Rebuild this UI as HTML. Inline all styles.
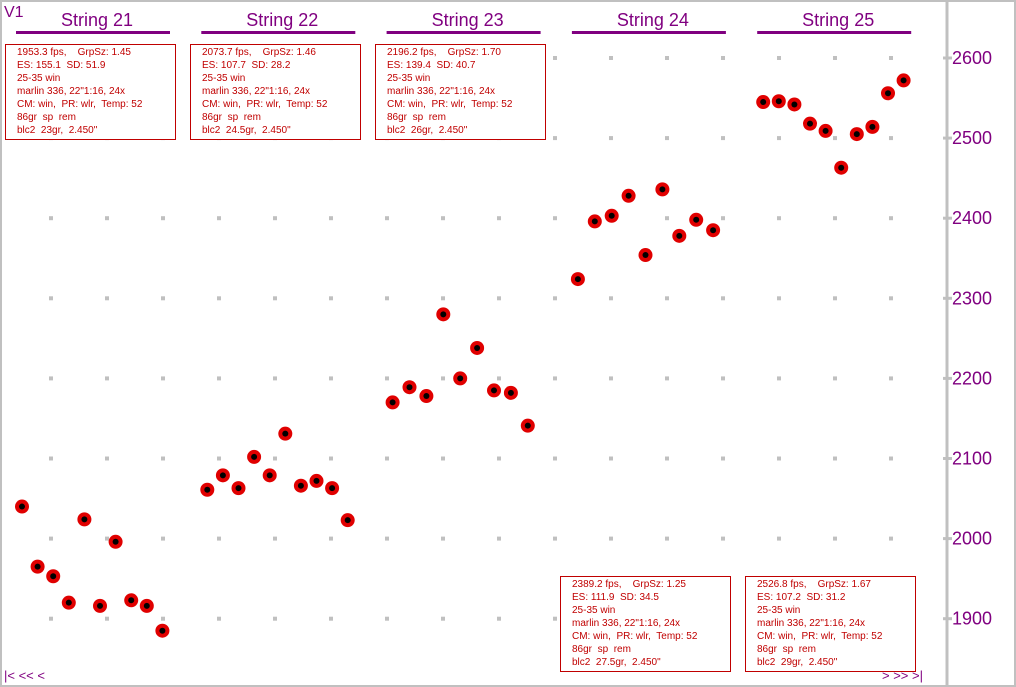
<!DOCTYPE html>
<html><head><meta charset="utf-8"><style>
body{margin:0;background:#fff}
#wrap{position:relative;width:1016px;height:687px;overflow:hidden;font-family:"Liberation Sans",sans-serif}
.box{position:absolute;border:1px solid #c00000;background:#fff;color:#c00000;font-size:10px;line-height:13px;padding:1px 0 0 11px;box-sizing:border-box;width:171px;height:96px;white-space:pre}
</style></head><body>
<div id="wrap">
<svg id="svg" width="1016" height="687" style="position:absolute;left:0;top:0"></svg>
</div>
<script>
const strings=["String 21","String 22","String 23","String 24","String 25"];
const s21=[2040,1965,1953,1920,2024,1916,1996,1923,1916,1885];
const s22=[2061,2079,2063,2102,2079,2131,2066,2072,2063,2023];
const s23=[2170,2189,2178,2280,2200,2238,2185,2182,2141];
const s24=[2324,2396,2403,2428,2354,2436,2378,2398,2385];
const s25=[2545,2546,2542,2518,2509,2463,2505,2514,2556,2572];
const yTicks=[1900,2000,2100,2200,2300,2400,2500,2600];
const boxTexts=[
["1953.3 fps,    GrpSz: 1.45","ES: 155.1  SD: 51.9"],
["2073.7 fps,    GrpSz: 1.46","ES: 107.7  SD: 28.2"],
["2196.2 fps,    GrpSz: 1.70","ES: 139.4  SD: 40.7"],
["2389.2 fps,    GrpSz: 1.25","ES: 111.9  SD: 34.5"],
["2526.8 fps,    GrpSz: 1.67","ES: 107.2  SD: 31.2"]];
const powders=["blc2  23gr,  2.450\"","blc2  24.5gr,  2.450\"","blc2  26gr,  2.450\"","blc2  27.5gr,  2.450\"","blc2  29gr,  2.450\""];
const series=[s21,s22,s23,s24,s25];
const NS="http://www.w3.org/2000/svg";
const svg=document.getElementById('svg');
const wrap=document.getElementById('wrap');
function y(v){return 58+(2600-v)*0.801;}
function mk(t,a,p){const e=document.createElementNS(NS,t);for(const k in a)e.setAttribute(k,a[k]);(p||svg).appendChild(e);return e;}
let b=mk('rect',{x:1,y:1,width:1014,height:685,fill:'none',stroke:'#c0c0c0','stroke-width':2});


const g=mk('g',{});


yTicks.forEach(t=>{for(let k=0;k<16;k++){mk('rect',{x:51+56*k-2,y:y(t)-2,width:4,height:4,fill:'#c0c0c0'},g);}});
let ax=mk('line',{x1:947,y1:0,x2:947,y2:687,stroke:'#c0c0c0','stroke-width':3});


yTicks.forEach(t=>{
 mk('line',{x1:943,y1:y(t),x2:952,y2:y(t),stroke:'#c0c0c0','stroke-width':3});
 let tx=mk('text',{x:952,y:y(t)+6,fill:'#800080','font-size':18,'font-family':'Liberation Sans, sans-serif'});
 tx.textContent=t;
 
 
});
let v1=mk('text',{x:4,y:17,fill:'#800080','font-size':16,'font-family':'Liberation Sans, sans-serif'});v1.textContent='V1';


strings.forEach((s,i)=>{
 const cx=97+i*185.3;
 let t=mk('text',{x:cx,y:26,fill:'#800080','font-size':18,'text-anchor':'middle','font-family':'Liberation Sans, sans-serif'});
 t.textContent=s;
 
 
 mk('rect',{x:cx-81,y:31,width:154,height:3,fill:'#800080'});
});
series.forEach((arr,si)=>{
 const base=22+si*185.3, step=arr.length==9?16.9:15.6;
 arr.forEach((v,i)=>{
  const gp=mk('g',{});
  
  
  mk('circle',{cx:base+i*step,cy:y(v),r:7,fill:'#e00000'},gp);
  mk('circle',{cx:base+i*step,cy:y(v),r:3,fill:'#000'},gp);
 });
});
const boxPos=[[5,44],[190,44],[375,44],[560,576],[745,576]];
boxTexts.forEach((bt,i)=>{
 const d=document.createElement('div');d.className='box';
 d.style.left=boxPos[i][0]+'px';d.style.top=boxPos[i][1]+'px';
 d.textContent=bt[0]+"\n"+bt[1]+"\n25-35 win\nmarlin 336, 22\"1:16, 24x\nCM: win,  PR: wlr,  Temp: 52\n86gr  sp  rem\n"+powders[i];
 
 
 wrap.appendChild(d);
});
let nl=mk('text',{x:4,y:680,fill:'#800080','font-size':13,'font-family':'Liberation Sans, sans-serif'});nl.textContent='|<  <<  <';


let nr=mk('text',{x:882,y:680,fill:'#800080','font-size':13,'font-family':'Liberation Sans, sans-serif'});nr.textContent='>  >>  >|';


</script>
</body></html>
